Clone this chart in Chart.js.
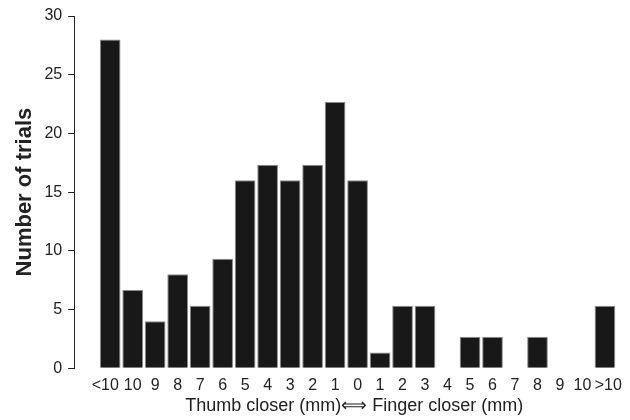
<!DOCTYPE html>
<html>
<head>
<meta charset="utf-8">
<script src="https://cdn.jsdelivr.net/npm/chart.js@4/dist/chart.umd.min.js"></script>
<style>
  body { margin: 0; background: #fff; }
</style>
</head>
<body>
<canvas id="histChart" width="630" height="420"></canvas>
<script>
// Bins: thumb closer (left) -> finger closer (right)
const binLabels = ["<10", "10", "9", "8", "7", "6", "5", "4", "3", "2", "1", "0",
                   "1", "2", "3", "4", "5", "6", "7", "8", "9", "10", ">10"];
const trialCounts = [28, 6.67, 4, 8, 5.33, 9.33, 16, 17.33, 16, 17.33, 22.67, 16,
                     1.33, 5.33, 5.33, 0, 2.67, 2.67, 0, 2.67, 0, 0, 5.33];
const yTicks = [0, 5, 10, 15, 20, 25, 30];

const FONT = "'Liberation Sans', Arial, sans-serif";

const points = trialCounts.map((v, i) => ({ x: i, y: v }));

// the end labels are wider, nudge them out a little like the original
function labelPos(i) {
    if (i === 0) return -0.22;
    if (i === binLabels.length - 1) return i + 0.15;
    return i;
}

const ctx = document.getElementById("histChart").getContext("2d");
const histChart = new Chart(ctx, {
    type: "bar",
    data: {
        datasets: [{
            data: points,
            backgroundColor: "#181818",
            borderColor: "#8a8a8a",
            borderWidth: c => (c.raw && c.raw.y > 0 ? 1 : 0),
            borderSkipped: "bottom",
            barPercentage: 0.92,
            categoryPercentage: 1.0
        }]
    },
    options: {
        responsive: false,
        animation: false,
        layout: { padding: { left: 12, top: 16, right: 6, bottom: 3 } },
        plugins: {
            legend: { display: false },
            tooltip: { enabled: false }
        },
        scales: {
            x: {
                type: "linear",
                offset: false,
                min: -1.6,
                max: 22.5,
                grid: { display: false, drawTicks: false, tickLength: 0 },
                border: { display: false },
                afterBuildTicks: axis => {
                    axis.ticks = binLabels.map((_, i) => ({ value: labelPos(i) }));
                },
                ticks: {
                    autoSkip: false,
                    maxRotation: 0,
                    padding: 8,
                    color: "#222",
                    font: { family: FONT, size: 16 },
                    callback: (v, i) => binLabels[i]
                },
                title: {
                    display: true,
                    text: "\u2003Thumb closer (mm)\u27FA Finger closer (mm)",
                    color: "#222",
                    font: { family: FONT, size: 18 },
                    padding: { top: -8, bottom: 0 }
                }
            },
            y: {
                min: 0,
                max: 30,
                afterBuildTicks: axis => {
                    axis.ticks = yTicks.map(v => ({ value: v }));
                },
                grid: {
                    drawOnChartArea: false,
                    tickLength: 6,
                    color: "#222"
                },
                border: { display: true, color: "#222", width: 1 },
                ticks: {
                    padding: 6,
                    color: "#222",
                    font: { family: FONT, size: 16 }
                },
                title: {
                    display: true,
                    text: "Number of trials",
                    color: "#222",
                    font: { family: FONT, size: 22, weight: "bold" },
                    padding: { top: 0, bottom: 0 }
                }
            }
        }
    }
});
</script>
</body>
</html>
